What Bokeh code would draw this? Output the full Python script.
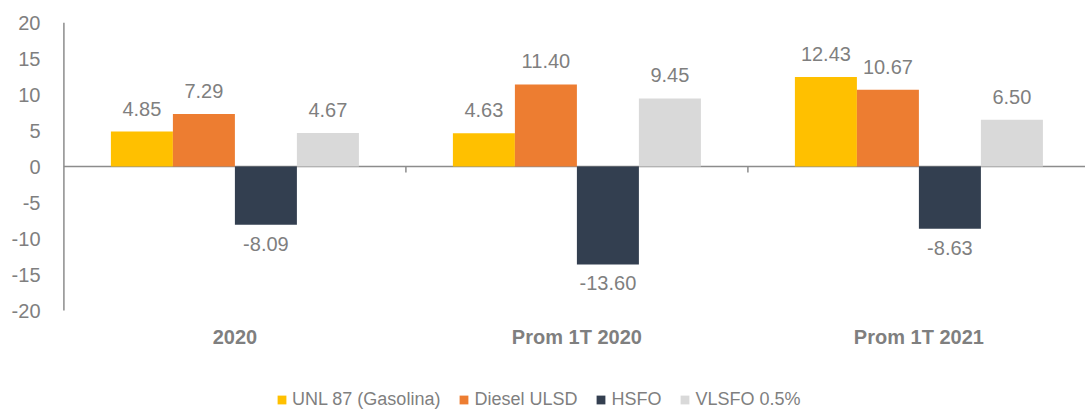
from bokeh.plotting import figure
from bokeh.models import (ColumnDataSource, Range1d, FixedTicker, Legend, LegendItem)
from bokeh.core.properties import value
from bokeh.embed import file_html
from bokeh.resources import INLINE

# ---- data ----
categories = ["2020", "Prom 1T 2020", "Prom 1T 2021"]
series_names = ["UNL 87 (Gasolina)", "Diesel ULSD", "HSFO", "VLSFO 0.5%"]
unl87 = [4.85, 4.63, 12.43]
diesel = [7.29, 11.40, 10.67]
hsfo = [-8.09, -13.60, -8.63]
vlsfo = [4.67, 9.45, 6.50]
colors = ["#FFC000", "#ED7D31", "#333F50", "#D9D9D9"]
y_ticks = [-20, -15, -10, -5, 0, 5, 10, 15, 20]
y_tick_labels = ["-20", "-15", "-10", "-5", "0", "5", "10", "15", "20"]

FONT = "Liberation Sans"
GREY = "#7F7F7F"
AXIS = "#8C8C8C"

W, H = 1085, 410
TOP, LEFT = 22, 62
PX_Y = 7.2            # pixels per y unit (20 units over 144 px)
PX_X = 342.0          # pixels per category
y_lo = 20 - (H - TOP) / PX_Y
x_lo = -1.4 / PX_X
x_hi = x_lo + (W - LEFT) / PX_X

p = figure(width=W, height=H, output_backend="svg", toolbar_location=None,
           x_range=Range1d(x_lo, x_hi), y_range=Range1d(y_lo, 20),
           x_axis_location=None,
           min_border_left=LEFT, min_border_right=0, min_border_top=TOP,
           min_border_bottom=0)
p.outline_line_color = None
p.xgrid.grid_line_color = None
p.ygrid.grid_line_color = None
p.background_fill_color = "white"
p.border_fill_color = "white"

# y axis (labels only; the line is drawn over the -20..20 span)
p.yaxis.ticker = FixedTicker(ticks=y_ticks)
p.yaxis.major_label_overrides = {t: l for t, l in zip(y_ticks, y_tick_labels)}
p.yaxis.axis_line_color = None
p.yaxis.major_tick_line_color = None
p.yaxis.minor_tick_line_color = None
p.yaxis.major_tick_out = 0
p.yaxis.major_label_standoff = 22
p.yaxis.major_label_text_font = FONT
p.yaxis.major_label_text_font_size = "20px"
p.yaxis.major_label_text_color = GREY
p.segment(x0=[0], x1=[0], y0=[y_ticks[0]], y1=[y_ticks[-1]], line_color=AXIS, line_width=1.5)

# zero line and category separators
n = len(categories)
p.segment(x0=[0], x1=[x_hi], y0=[0], y1=[0], line_color=AXIS, line_width=1.5)
bounds = [float(i) for i in range(1, n)]
p.segment(x0=bounds, x1=bounds, y0=[0] * len(bounds), y1=[-6 / PX_Y] * len(bounds),
          line_color=AXIS, line_width=1.5)

# category labels
centers = [i + 0.5 for i in range(n)]
p.text(x=centers, y=[y_ticks[0] - 26 / PX_Y] * n, text=categories,
       text_align="center", text_baseline="middle", text_font=value(FONT),
       text_font_size="20px", text_font_style="bold", text_color=GREY)

# bars
bw = 62 / PX_X
all_series = [unl87, diesel, hsfo, vlsfo]
renderers = []
for k, (vals, col) in enumerate(zip(all_series, colors)):
    off = (k - 1.5) * bw
    xs = [c + off for c in centers]
    src = ColumnDataSource(dict(x=xs, top=vals))
    r = p.vbar(x="x", top="top", bottom=0, width=bw, source=src,
               fill_color=col, line_color=None)
    renderers.append(r)
    pos = ColumnDataSource(dict(x=[x for x, v in zip(xs, vals) if v >= 0],
                                y=[v for v in vals if v >= 0],
                                t=[f"{v:.2f}" for v in vals if v >= 0]))
    neg = ColumnDataSource(dict(x=[x for x, v in zip(xs, vals) if v < 0],
                                y=[v for v in vals if v < 0],
                                t=[f"{v:.2f}" for v in vals if v < 0]))
    p.text(x="x", y="y", text="t", source=pos, text_align="center",
           text_baseline="bottom", y_offset=-16, text_font=value(FONT),
           text_font_size="20px", text_color=GREY)
    p.text(x="x", y="y", text="t", source=neg, text_align="center",
           text_baseline="top", y_offset=12, text_font=value(FONT),
           text_font_size="20px", text_color=GREY)

legend = Legend(items=[LegendItem(label=nm, renderers=[r]) for nm, r in zip(series_names, renderers)],
                orientation="horizontal", location=(214, 0),
                glyph_width=11, glyph_height=11, label_standoff=5, spacing=18,
                padding=0, margin=0, label_height=20,
                label_text_font=FONT, label_text_font_size="18px",
                label_text_color=GREY, border_line_color=None,
                background_fill_alpha=0)
p.add_layout(legend)

open("out.html", "w").write(file_html(p, INLINE))
